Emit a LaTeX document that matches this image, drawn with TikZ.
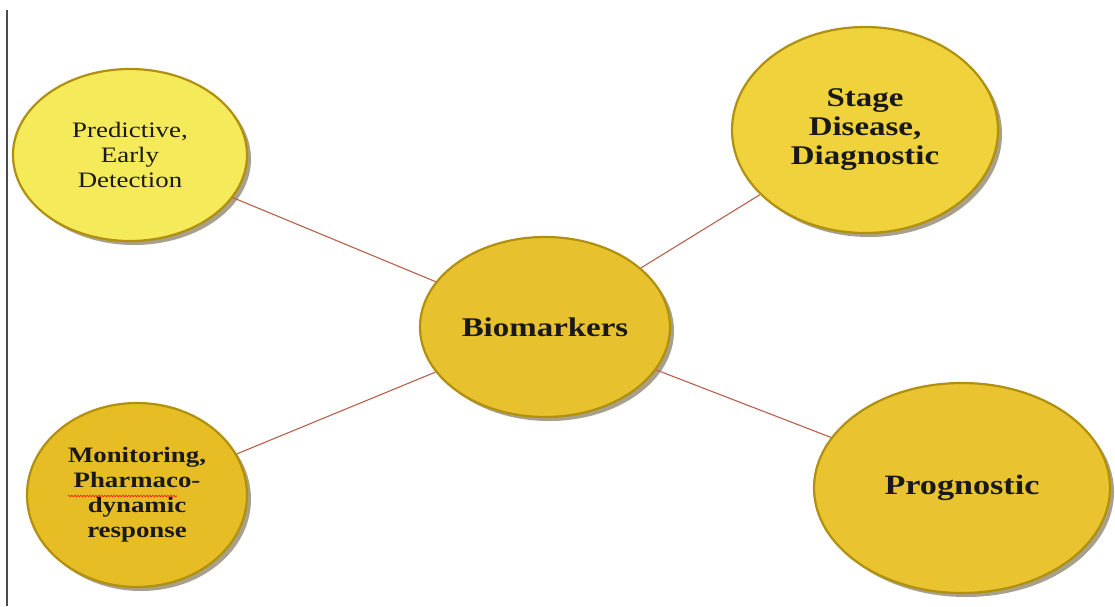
\documentclass[tikz,border=0pt]{standalone}
\usepackage{fontspec}
\setmainfont[FakeStretch=1.22]{Liberation Serif}
\usetikzlibrary{shapes.geometric,shadows,decorations.pathmorphing}
\definecolor{predfill}{HTML}{F5EA5A}
\definecolor{stagefill}{HTML}{F0D23C}
\definecolor{biofill}{HTML}{E8C22E}
\definecolor{monfill}{HTML}{E6BD24}
\definecolor{progfill}{HTML}{E9C430}
\definecolor{rim}{HTML}{B0900C}
\definecolor{linkcol}{HTML}{B8614C}
\definecolor{shadowcol}{HTML}{3A2E00}
\begin{document}
\begin{tikzpicture}[x=1pt,y=-1pt,
  bubble/.style={ellipse, draw=rim, line width=2.2pt, inner sep=0pt,
    align=center, text=black!90,
    drop shadow={shadow xshift=4pt, shadow yshift=-4pt, fill=shadowcol, opacity=.45}},
  link/.style={draw=linkcol, line width=1.1pt},
  leftrule/.style={draw=black!70, line width=1.8pt}
]
\useasboundingbox (0,0) rectangle (1115,606);
\fill[white] (0,0) rectangle (1115,606);
\draw[leftrule] (7,10) -- (7,606);

\node[bubble, fill=predfill, minimum width=234pt, minimum height=172pt,
  font=\fontsize{22}{25}\selectfont] (pred) at (130,155)
  {Predictive,\\Early\\Detection};
\node[bubble, fill=stagefill, minimum width=266pt, minimum height=206pt,
  font=\fontsize{27}{29}\selectfont\bfseries] (stage) at (865,130)
  {Stage\\Disease,\\Diagnostic};
\node[bubble, fill=biofill, minimum width=250pt, minimum height=180pt,
  font=\fontsize{27}{30}\selectfont\bfseries] (bio) at (545,327)
  {Biomarkers};
\node[bubble, fill=monfill, minimum width=220pt, minimum height=184pt,
  font=\fontsize{22}{25}\selectfont\bfseries] (mon) at (137,495)
  {Monitoring,\\Pharmaco-\\dynamic\\response};
\node[bubble, fill=progfill, minimum width=296pt, minimum height=210pt,
  font=\fontsize{28}{30}\selectfont\bfseries] (prog) at (962,488)
  {Prognostic};

\draw[link] (pred) -- (bio);
\draw[link] (stage) -- (bio);
\draw[link] (mon) -- (bio);
\draw[link] (prog) -- (bio);

\draw[red!80!orange, line width=0.7pt, decorate,
  decoration={snake, segment length=3pt, amplitude=0.8pt}]
  (68,496) -- (177,496);
\end{tikzpicture}
\end{document}
